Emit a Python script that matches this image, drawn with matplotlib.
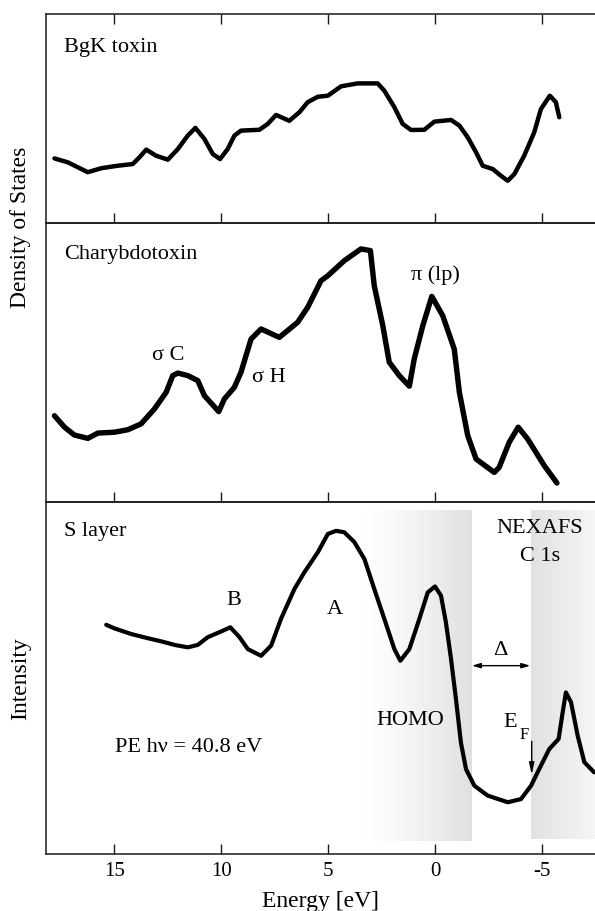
import numpy as np
import matplotlib
matplotlib.use("Agg")
import matplotlib.pyplot as plt
from matplotlib.colors import LinearSegmentedColormap

plt.rcParams['font.family'] = ['Liberation Serif', 'DejaVu Serif']
plt.rcParams['mathtext.fontset'] = 'custom'
plt.rcParams['mathtext.rm'] = 'Liberation Serif'
plt.rcParams['axes.unicode_minus'] = False

# BgK toxin density of states (energy in eV, arbitrary units)
bgk_e = [17.79, 17.16, 16.23, 15.61, 14.83, 14.13, 13.82, 13.50, 13.04, 12.49, 12.02,
         11.56, 11.20, 10.78, 10.39, 10.05, 9.69, 9.38, 9.07, 8.21, 7.82, 7.43, 6.81,
         6.34, 5.95, 5.48, 5.01, 4.39, 3.61, 2.68, 2.37, 1.90, 1.51, 1.12, 0.50,
         0.03, -0.75, -1.14, -1.53, -1.92, -2.23, -2.70, -3.08, -3.40, -3.71, -4.17,
         -4.64, -4.95, -5.37, -5.65, -5.81]
bgk_dos = [30.9, 29.0, 24.3, 26.2, 27.4, 28.2, 31.4, 35.1, 32.2, 30.3, 35.4,
           41.8, 45.5, 40.2, 33.0, 30.6, 35.4, 41.8, 44.2, 44.6, 47.4, 51.7, 48.9,
           53.0, 57.8, 60.4, 60.9, 65.4, 66.8, 66.8, 63.3, 55.4, 47.4, 44.5, 44.6,
           48.5, 49.3, 46.6, 41.0, 33.8, 27.4, 25.8, 22.6, 20.2, 23.4, 32.2,
           43.4, 54.5, 60.9, 57.8, 50.6]

# Charybdotoxin density of states
chtx_e = [17.79, 17.32, 16.86, 16.23, 15.76, 14.99, 14.36, 13.74, 13.12, 12.57, 12.26,
          12.02, 11.56, 11.09, 10.78, 10.11, 9.85, 9.38, 9.07, 8.60, 8.13, 7.28, 6.42,
          5.95, 5.33, 5.01, 4.24, 3.46, 3.02, 2.84, 2.44, 2.14, 1.67, 1.20, 0.97,
          0.57, 0.15, -0.36, -0.90, -1.14, -1.53, -1.92, -2.77, -3.00, -3.47, -3.89,
          -4.33, -5.11, -5.70]
chtx_dos = [30.9, 26.8, 24.0, 22.8, 24.7, 25.0, 25.9, 28.0, 33.3, 39.3, 45.3,
            46.2, 45.3, 43.5, 38.1, 32.4, 36.9, 41.1, 46.5, 58.4, 62.0, 59.0, 64.4,
            69.8, 79.3, 81.1, 86.5, 90.7, 90.1, 77.5, 63.2, 50.1, 45.3, 41.5, 51.3,
            63.2, 73.7, 66.8, 54.8, 39.3, 23.8, 15.4, 10.6, 12.4, 21.4, 26.8,
            22.6, 13.0, 6.8]

# S layer photoemission + NEXAFS C 1s
sl_e = [15.37, 14.99, 14.21, 13.43, 12.73, 12.18, 11.56, 11.09, 10.62, 10.00, 9.57,
        9.14, 8.75, 8.13, 7.66, 7.20, 6.57, 6.11, 5.48, 5.01, 4.63, 4.24, 3.77,
        3.30, 2.84, 2.37, 1.90, 1.62, 1.20, 0.73, 0.34, 0.00, -0.28, -0.51, -0.75,
        -0.98, -1.21, -1.45, -1.84, -2.46, -3.40, -4.02, -4.49, -4.87, -5.34,
        -5.78, -5.97, -6.12, -6.36, -6.67, -6.98, -7.44]
sl_int = [65.1, 64.1, 62.5, 61.3, 60.3, 59.4, 58.7, 59.4, 61.6, 63.2, 64.4,
          61.6, 58.2, 56.3, 59.2, 66.8, 75.3, 80.0, 85.7, 90.9, 91.8, 91.4, 88.6,
          83.8, 75.3, 66.8, 58.2, 54.9, 58.2, 66.8, 74.3, 76.0, 73.4, 65.8, 55.4,
          44.0, 31.7, 24.1, 19.4, 16.6, 14.7, 15.6, 19.4, 24.1, 29.8,
          32.7, 40.3, 45.9, 43.1, 33.6, 26.1, 23.2]

xticks = [15, 10, 5, 0, -5]
xlim = (18.2, -7.48)

fig = plt.figure(figsize=(5.95, 9.12), dpi=100)
left = 0.0768
ax1 = fig.add_axes([left, 0.7544, 1 - left, 0.98355 - 0.7544])
ax2 = fig.add_axes([left, 0.4485, 1 - left, 0.7544 - 0.4485])
ax3 = fig.add_axes([left, 0.0625, 1 - left, 0.4485 - 0.0625])

for ax in (ax1, ax2, ax3):
    ax.set_xlim(xlim)
    ax.set_ylim(0, 100)
    ax.set_yticks([])
    ax.set_xticks(xticks)
    ax.patch.set_alpha(0)
    ax.spines['right'].set_visible(False)
    for s in ax.spines.values():
        s.set_linewidth(1.1)
        s.set_color('#1a1a1a')
    ax.tick_params(axis='x', direction='in', length=7, width=1.0,
                   color='#1a1a1a', labelsize=15, pad=5)

ax1.tick_params(axis='x', top=True, labelbottom=False)
ax2.tick_params(axis='x', labelbottom=False)

# top panel
ax1.plot(bgk_e, bgk_dos, color='black', lw=3.2, solid_joinstyle='round', solid_capstyle='round')
ax1.text(17.34, 84.4, 'BgK toxin', fontsize=16, ha='left', va='center')

# middle panel
ax2.plot(chtx_e, chtx_dos, color='black', lw=3.9, solid_joinstyle='round', solid_capstyle='round')
ax2.text(17.34, 89.1, 'Charybdotoxin', fontsize=16, ha='left', va='center')
ax2.text(12.48, 52.8, 'σ C', fontsize=16, ha='center', va='center')
ax2.text(7.78, 44.9, 'σ H', fontsize=16, ha='center', va='center')
ax2.text(-0.02, 81.7, 'π (lp)', fontsize=16, ha='center', va='center')

# bottom panel: shaded gap regions
shade = LinearSegmentedColormap.from_list('shade', ['#ffffff', '#e0e0e0'])
grad1 = np.linspace(0, 1, 256).reshape(1, -1) ** 1.3
ax3.imshow(grad1, cmap=shade, vmin=0, vmax=1, extent=(3.3, -1.71, 3.8, 97.6),
           aspect='auto', zorder=0, interpolation='bilinear')
grad2 = np.linspace(0.95, 0.3, 256).reshape(1, -1)
ax3.imshow(grad2, cmap=shade, vmin=0, vmax=1, extent=(-4.49, -7.48, 4.3, 97.6),
           aspect='auto', zorder=0, interpolation='bilinear')
ax3.set_xlim(xlim)
ax3.set_ylim(0, 100)

ax3.plot(sl_e, sl_int, color='black', lw=3.0, solid_joinstyle='round', solid_capstyle='round')
ax3.text(17.34, 92.0, 'S layer', fontsize=16, ha='left', va='center')
ax3.text(-4.89, 92.7, 'NEXAFS', fontsize=16, ha='center', va='center')
ax3.text(-4.89, 84.9, 'C 1s', fontsize=16, ha='center', va='center')
ax3.text(9.41, 72.2, 'B', fontsize=16, ha='center', va='center')
ax3.text(4.70, 69.6, 'A', fontsize=16, ha='center', va='center')
ax3.text(1.15, 38.1, 'HOMO', fontsize=16, ha='center', va='center')
ax3.text(11.54, 30.4, 'PE hν = 40.8 eV', fontsize=16, ha='center', va='center')
ax3.text(-3.04, 58.0, 'Δ', fontsize=16, ha='center', va='center')
ax3.annotate('', xy=(-4.45, 53.5), xytext=(-1.73, 53.5),
             arrowprops=dict(arrowstyle='<|-|>,head_length=0.5,head_width=0.15',
                             lw=1.0, color='black', shrinkA=0, shrinkB=0))
ax3.text(-3.18, 37.6, 'E', fontsize=16, ha='left', va='center')
ax3.text(-3.95, 34.2, 'F', fontsize=12, ha='left', va='center')
ax3.annotate('', xy=(-4.52, 22.5), xytext=(-4.52, 32.0),
             arrowprops=dict(arrowstyle='-|>,head_length=0.7,head_width=0.15',
                             lw=1.0, color='black', shrinkA=0, shrinkB=0))

ax3.set_xlabel('Energy [eV]', fontsize=17, labelpad=7)
fig.text(0.034, 0.7505, 'Density of States', rotation=90, fontsize=17,
         ha='center', va='center')
fig.text(0.034, 0.2555, 'Intensity', rotation=90, fontsize=17,
         ha='center', va='center')

fig.savefig('out.png', dpi=100)
